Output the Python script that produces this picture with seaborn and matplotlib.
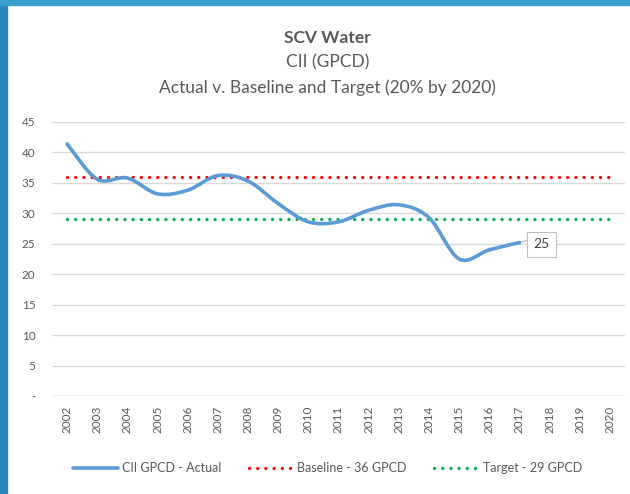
import numpy as np
import pandas as pd
import matplotlib.pyplot as plt
import seaborn as sns
from matplotlib.path import Path
from matplotlib.patches import PathPatch, Rectangle
from matplotlib.lines import Line2D

# data
years = [str(y) for y in range(2002, 2021)]
actual = [41.4, 35.6, 35.8, 33.2, 33.8, 36.2, 35.3, 31.6, 28.6, 28.6,
          30.5, 31.4, 29.3, 22.5, 24.0, 25.2]
baseline = 36
target = 29
y_ticks = [0, 5, 10, 15, 20, 25, 30, 35, 40, 45]
y_labels = ['-', '5', '10', '15', '20', '25', '30', '35', '40', '45']

sns.set_theme(style='white')
plt.rcParams['font.family'] = ['Lato', 'DejaVu Sans']

txt = '#595959'
fig = plt.figure(figsize=(6.3, 4.94), dpi=100)

# blue frame of the screenshot
fig.patches.append(Rectangle((0, 0), 7 / 630, 1, transform=fig.transFigure,
                             color='#2a86bb', zorder=0))
fig.patches.append(Rectangle((0, 1 - 5 / 494), 1, 5 / 494, transform=fig.transFigure,
                             color='#3aa0cb', zorder=0))

ax = fig.add_axes([52 / 630, 1 - 396 / 494, 573 / 630, 274 / 494])

df = pd.DataFrame({'x': np.arange(len(years)),
                   'baseline': [baseline] * len(years),
                   'target': [target] * len(years)})
sns.lineplot(data=df, x='x', y='baseline', ax=ax, color='#ff0000', lw=2.4,
             linestyle=(0, (0.01, 2.45)), dash_capstyle='round', zorder=3)
sns.lineplot(data=df, x='x', y='target', ax=ax, color='#00b050', lw=2.4,
             linestyle=(0, (0.01, 2.45)), dash_capstyle='round', zorder=3)

# smoothed actual line (bezier through the data points, like Excel)
pts = np.column_stack([np.arange(len(actual)), actual])
verts = [pts[0]]
codes = [Path.MOVETO]
for i in range(len(pts) - 1):
    p0 = pts[max(i - 1, 0)]
    p1 = pts[i]
    p2 = pts[i + 1]
    p3 = pts[min(i + 2, len(pts) - 1)]
    verts += [p1 + (p2 - p0) / 6, p2 - (p3 - p1) / 6, p2]
    codes += [Path.CURVE4] * 3
ax.add_patch(PathPatch(Path(verts, codes), fill=False, edgecolor='#5b9bd5',
                       lw=2.6, capstyle='round', zorder=4))

ax.annotate(f'{actual[-1]:.0f}', xy=(len(actual) - 1, actual[-1]),
            xytext=(10, 3), textcoords='offset points', ha='left', va='top',
            fontsize=10, color='#404040',
            bbox=dict(boxstyle='square,pad=0.45', fc='white', ec='#bfbfbf', lw=0.8),
            arrowprops=dict(arrowstyle='-', color='#bfbfbf', lw=0.8,
                            shrinkA=0, shrinkB=0, relpos=(0, 1)))

ax.set_xlim(-0.5, len(years) - 0.5)
ax.set_ylim(0, 45)
ax.set_xticks(range(len(years)))
ax.set_xticklabels(years, rotation=90, fontsize=8.5, color=txt)
ax.set_yticks(y_ticks)
ax.set_yticklabels(y_labels, fontsize=8.5, color=txt)
ax.tick_params(length=0)
ax.tick_params(axis='x', pad=7)
ax.tick_params(axis='y', pad=12)
ax.grid(axis='y', color='#d9d9d9', lw=1)
ax.set_axisbelow(True)
for s in ax.spines.values():
    s.set_visible(False)
ax.axhline(0, color='#d9d9d9', lw=1, zorder=1)
ax.set_xlabel('')
ax.set_ylabel('')

fig.text(0.52, 1 - 38 / 494, 'SCV Water', ha='center', va='center',
         fontsize=12.5, fontweight='bold', color=txt)
fig.text(0.52, 1 - 62 / 494, 'CII (GPCD)', ha='center', va='center',
         fontsize=12.5, color=txt)
fig.text(0.52, 1 - 88 / 494, 'Actual v. Baseline and Target (20% by 2020)',
         ha='center', va='center', fontsize=12.5, color=txt)

handles = [Line2D([], [], color='#5b9bd5', lw=2.6),
           Line2D([], [], color='#ff0000', lw=2.4, linestyle=(0, (0.01, 2.45)),
                  dash_capstyle='round'),
           Line2D([], [], color='#00b050', lw=2.4, linestyle=(0, (0.01, 2.45)),
                  dash_capstyle='round')]
fig.legend(handles, ['CII GPCD - Actual', 'Baseline - 36 GPCD', 'Target - 29 GPCD'],
           loc='center', bbox_to_anchor=(0.52, 1 - 468 / 494), ncol=3,
           frameon=False, fontsize=9, labelcolor=txt, handlelength=3.6,
           handletextpad=0.3, columnspacing=2.2)

fig.savefig('out.png', dpi=100)
